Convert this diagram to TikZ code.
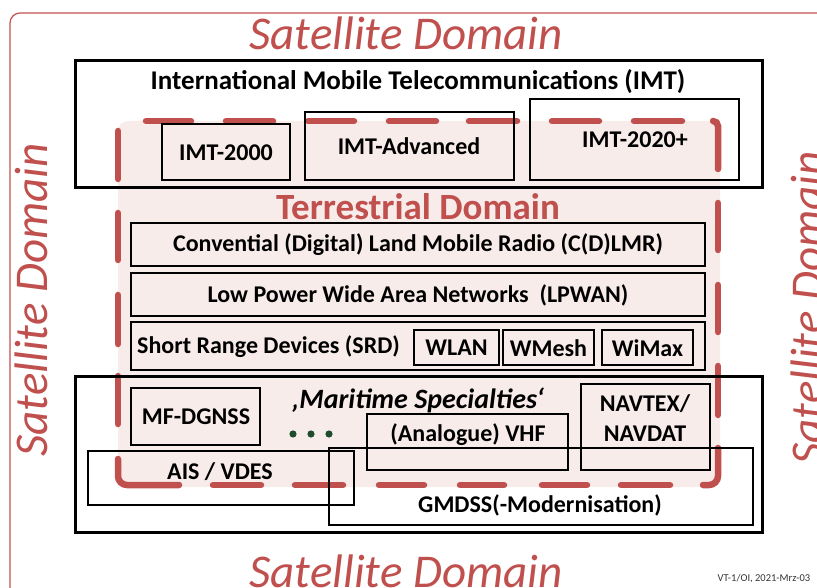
\documentclass[tikz,border=0pt]{standalone}
\usepackage{fontspec}
\setmainfont{Carlito}
\definecolor{satred}{HTML}{C0504D}
\definecolor{terfill}{HTML}{F8ECEB}
\definecolor{dotgreen}{HTML}{1E4D2B}
\begin{document}
\begin{tikzpicture}[x=1pt,y=-1pt,
  thinbox/.style={draw=black,line width=1.3pt},
  thickbox/.style={draw=black,line width=3pt},
  tdash/.style={draw=satred,line width=6.5pt,line cap=round,rounded corners=9pt},
  boxtext/.style={font=\bfseries\fontsize{24}{28}\selectfont,inner sep=0pt},
  sattext/.style={font=\itshape\fontsize{47}{50}\selectfont,text=satred,inner sep=0pt}]
\useasboundingbox (0,0) rectangle (817,588);
\begin{scope}
\clip (0,0) rectangle (817,588);
% outer satellite frame
\draw[satred,line width=1.2pt,rounded corners=10pt] (10,13) rectangle (830,600);
\node[sattext] (satTop) at (406,33) {Satellite Domain};
\node[sattext] (satBot) at (406,571) {Satellite Domain};
\node[sattext,rotate=90] (satLeft) at (31,300) {Satellite Domain};
\node[sattext,rotate=90] (satRight) at (807,308) {Satellite Domain};
\end{scope}
% terrestrial domain fill
\fill[terfill,rounded corners=10pt] (118,121) rectangle (720,487);
% dashed border, drawn dash by dash
\foreach \a/\b in {128/182,210/263,292/347,373/427}
  \draw[tdash] (118,\a+3) -- (118,\b-3);
\draw[tdash] (118,459) -- (118,485) -- (179,485);
\foreach \a/\b in {210/264,292/346,376/427,457/507,539/590,618/673}
  \draw[tdash] (\a+3,485) -- (\b-3,485);
\draw[tdash] (703,485) -- (718,485) -- (718,448);
\foreach \a/\b in {200/253,282/335,363/418}
  \draw[tdash] (718,\a+3) -- (718,\b-3);
\draw[tdash,rounded corners=5pt] (713,121) -- (718,121) -- (718,169);
\foreach \a/\b in {143/194,223/276,305/357,386/439,466/520,549/602,631/685}
  \draw[tdash] (\a+3,121) -- (\b-3,121);
\node[font=\bfseries\fontsize{37}{40}\selectfont,text=satred,inner sep=0pt] (terr) at (418,207) {Terrestrial Domain};
% IMT
\draw[thickbox] (75,61) rectangle (762,188);
\node[boxtext,font=\bfseries\fontsize{27}{30}\selectfont] (imt) at (418,82) {International Mobile Telecommunications (IMT)};
\draw[thinbox] (162,124) rectangle (290,180);
\node[boxtext] (imt2000) at (226,153) {IMT-2000};
\draw[thinbox] (305,112) rectangle (514,180);
\node[boxtext] (imtadv) at (409,146) {IMT-Advanced};
\draw[thinbox] (530,99) rectangle (739,180);
\node[boxtext] (imt2020) at (635,140) {IMT-2020+};
% middle bars
\draw[thinbox,fill=terfill] (131,223) rectangle (705,266);
\node[boxtext] (clmr) at (418,245) {Convential (Digital) Land Mobile Radio (C(D)LMR)};
\draw[thinbox,fill=terfill] (131,273) rectangle (705,316);
\node[boxtext] (lpwan) at (418,295) {Low Power Wide Area Networks\ \ (LPWAN)};
\draw[thinbox,fill=terfill] (131,322) rectangle (705,370);
\node[boxtext,anchor=west] (srd) at (137,347) {Short Range Devices (SRD)};
\draw[thinbox] (414,330) rectangle (499,365);
\node[boxtext] (wlan) at (456.5,348) {WLAN};
\draw[thinbox] (503,330) rectangle (594,365);
\node[boxtext] (wmesh) at (548.5,348) {WMesh};
\draw[thinbox] (602,330) rectangle (693,365);
\node[boxtext] (wimax) at (647.5,348) {WiMax};
% maritime
\draw[thickbox] (75,376) rectangle (762,532);
\node[boxtext,font=\bfseries\itshape\fontsize{28}{30}\selectfont] (mar) at (418,400) {‚Maritime Specialties‘};
\draw[thinbox] (131,388) rectangle (260,445);
\node[boxtext] (mfd) at (196,417) {MF-DGNSS};
\foreach \i in {0,1,2} \fill[dotgreen] (293+\i*18,434) circle (3.6);
\draw[thinbox] (367,414) rectangle (568,470);
\node[boxtext] (vhf) at (468,435) {(Analogue) VHF};
\draw[thinbox] (581,384) rectangle (710,470);
\node[boxtext,align=center,font=\bfseries\fontsize{24}{30}\selectfont] (navtex) at (645,418) {NAVTEX/\\NAVDAT};
\draw[thinbox] (88,451) rectangle (354,505);
\node[boxtext] (ais) at (220,472) {AIS / VDES};
\draw[thinbox] (329,448) rectangle (753,525);
\node[boxtext] (gmdss) at (540,505) {GMDSS(-Modernisation)};
% footer
\node[font=\fontsize{10.5}{12}\selectfont,text=black!80,inner sep=0pt] (foot) at (764,579) {VT-1/OI, 2021-Mrz-03};
\end{tikzpicture}
\end{document}
